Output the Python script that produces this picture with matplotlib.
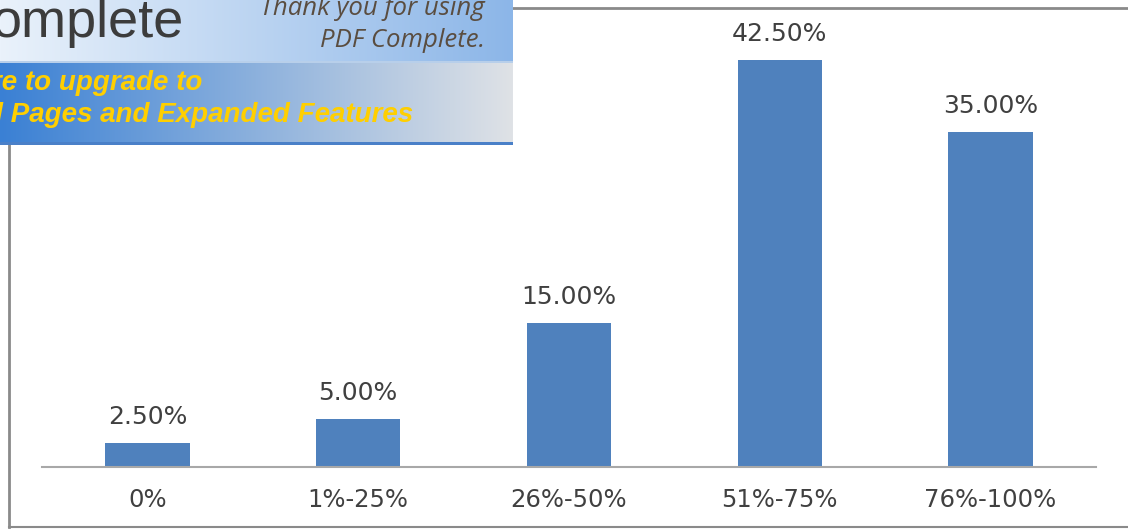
import numpy as np
import matplotlib
matplotlib.use("Agg")
import matplotlib.pyplot as plt
from matplotlib.lines import Line2D

categories = ["0%", "1%-25%", "26%-50%", "51%-75%", "76%-100%"]
values = [2.5, 5.0, 15.0, 42.5, 35.0]

W, H = 1128, 529
fig = plt.figure(figsize=(W / 100, H / 100), dpi=100)
fig.patch.set_facecolor("white")

def fx(px):
    return px / W

def fy(py):
    return 1 - py / H

# main axes
ax_left, ax_right, ax_base, ax_top = 42, 1096, 467, 36
ax = fig.add_axes([fx(ax_left), fy(ax_base), fx(ax_right - ax_left), (ax_base - ax_top) / H])
x = np.arange(len(categories))
bars = ax.bar(x, values, width=0.4, color="#4f81bd", zorder=2)
ax.set_xlim(-0.5, len(categories) - 0.5)
ax.set_ylim(0, 45)
ax.set_xticks(x)
ax.set_xticklabels(categories, fontsize=17.5, color="#404040", family="DejaVu Sans")
ax.tick_params(axis="x", length=0, pad=15)
ax.set_yticks([])
for s in ["top", "right", "left"]:
    ax.spines[s].set_visible(False)
ax.spines["bottom"].set_color("#a8a8a8")
ax.spines["bottom"].set_linewidth(1.5)
ax.patch.set_alpha(0)
for xi, v in zip(x, values):
    ax.annotate(f"{v:.2f}%", (xi, v), xytext=(0, 10), textcoords="offset points",
                ha="center", va="bottom", fontsize=18, color="#404040")

# outer border lines
border = "#8a8a8a"
fig.add_artist(Line2D([fx(513), 1], [fy(8), fy(8)], color=border, lw=2, transform=fig.transFigure))
fig.add_artist(Line2D([fx(9), fx(9)], [fy(145), fy(527)], color=border, lw=2, transform=fig.transFigure))
fig.add_artist(Line2D([fx(9), 1], [fy(527), fy(527)], color=border, lw=1.5, transform=fig.transFigure))

# banner
bw, bh = 513, 145
img = np.ones((bh, bw, 3))
t = np.linspace(0, 1, bw)
top_l = np.array([0xea, 0xf2, 0xfb]) / 255
top_r = np.array([0x8c, 0xb6, 0xe8]) / 255
bot_l = np.array([0x3a, 0x80, 0xd4]) / 255
bot_r = np.array([0xdf, 0xe2, 0xe6]) / 255
for r in range(bh):
    if r < 62:
        img[r] = top_l[None, :] * (1 - t[:, None]) + top_r[None, :] * t[:, None]
    else:
        img[r] = bot_l[None, :] * (1 - t[:, None]) + bot_r[None, :] * t[:, None]
img[61:63] = np.array([0xb8, 0xcf, 0xea]) / 255
img[142:145] = np.array([0x4a, 0x80, 0xc8]) / 255
bax = fig.add_axes([0, fy(bh), fx(bw), bh / H], zorder=5)
bax.imshow(img, aspect="auto", extent=(0, bw, bh, 0), interpolation="bilinear")
bax.set_xlim(0, bw)
bax.set_ylim(bh, 0)
bax.axis("off")

bax.text(-8, 37, "omplete", fontsize=39, color="#3c3c3c", family="Liberation Sans",
         ha="left", va="baseline")
bax.text(485, 15, "Thank you for using", fontsize=18.5, color="#5a4d40", family="Open Sans",
         style="italic", ha="right", va="baseline")
bax.text(485, 47, "PDF Complete.", fontsize=18.5, color="#5a4d40", family="Open Sans",
         style="italic", ha="right", va="baseline")
bax.text(-9, 90, "re to upgrade to", fontsize=20, color="#ffcf00", family="Liberation Sans",
         style="italic", weight="bold", ha="left", va="baseline")
bax.text(-14, 122, "d Pages and Expanded Features", fontsize=20, color="#ffcf00",
         family="Liberation Sans", style="italic", weight="bold", ha="left", va="baseline")

fig.savefig("out.png", dpi=100)
